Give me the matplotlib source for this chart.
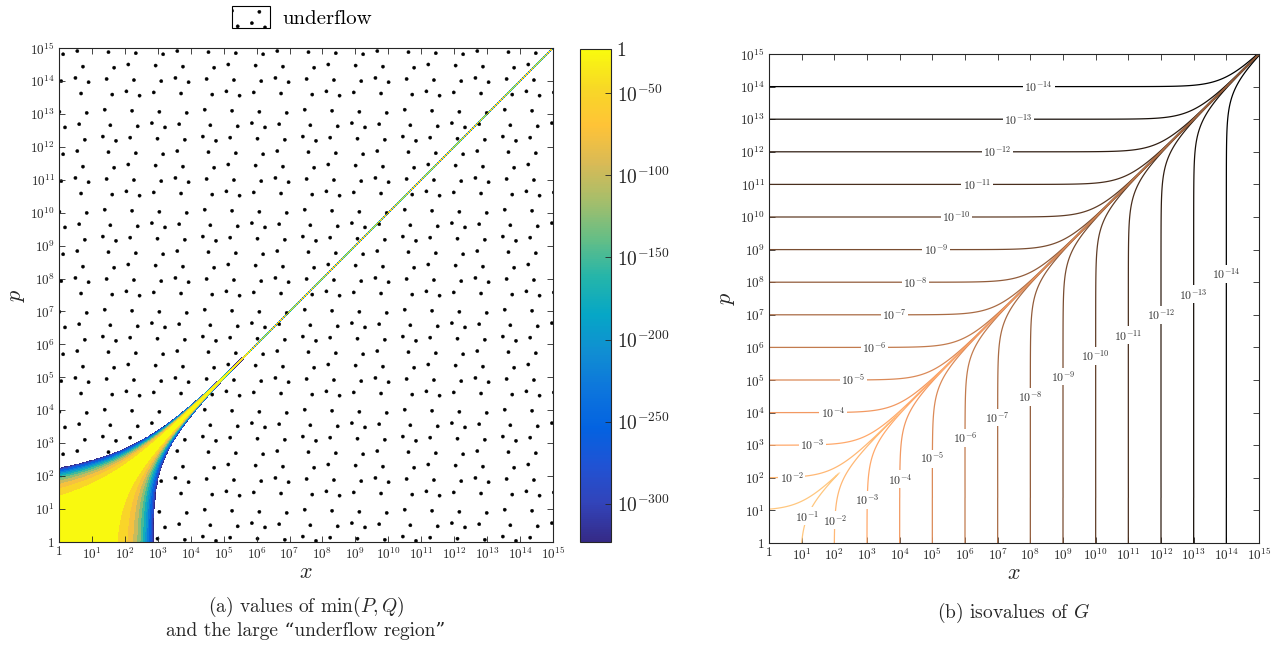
import math
import numpy as np
import matplotlib
matplotlib.use("Agg")
import matplotlib.pyplot as plt
import matplotlib.hatch as mhatch
from matplotlib.path import Path
from matplotlib.colors import LinearSegmentedColormap, Normalize
from matplotlib.patches import Patch
import matplotlib.cm as cm

plt.rcParams['font.family'] = ['cmr10', 'DejaVu Serif']
plt.rcParams['mathtext.fontset'] = 'cm'
plt.rcParams['axes.formatter.use_mathtext'] = True
plt.rcParams['hatch.color'] = 'black'
plt.rcParams['hatch.linewidth'] = 0.3

# ---------------- data / values ----------------
decades = np.arange(0, 16)                                  # 1 ... 1e15 on both axes
tick_labels = ['1'] + [rf'$10^{{{k}}}$' for k in decades[1:]]
g_levels = np.arange(-14, 0)                                # isovalues 1e-14 ... 1e-1
cbar_ticks = [-300, -250, -200, -150, -100, -50]
cbar_labels = [rf'$10^{{{k}}}$' for k in cbar_ticks]
cbar_top = -23.0            # colour saturates here (labelled "1")
denorm_min = -323.3         # log10 of smallest subnormal double; below -> underflow
band_step = 25.0            # spacing (in decades) of the filled contour bands

# parula colormap anchors
parula_rgb = [(0.2081, 0.1663, 0.5292), (0.1959, 0.2645, 0.7279), (0.1253, 0.3242, 0.8303),
              (0.0117, 0.3875, 0.8820), (0.0498, 0.4586, 0.8641), (0.0641, 0.5570, 0.8240),
              (0.0228, 0.6535, 0.7768), (0.1453, 0.7098, 0.6646), (0.3953, 0.7459, 0.5244),
              (0.6473, 0.7456, 0.4188), (0.8507, 0.7299, 0.3360), (0.9990, 0.7653, 0.2164),
              (0.9698, 0.8481, 0.1475), (0.9763, 0.9831, 0.0538)]
parula = LinearSegmentedColormap.from_list('parula', parula_rgb)


# ---------------- irregular dot hatch (style only) ----------------
class IrregularDots(mhatch.HatchPatternBase):
    n_dots = 32
    radius = 0.016

    def __init__(self, hatch, density):
        self.active = hatch.count('.') > 0
        circ = Path.unit_circle()
        self.cv, self.cc = circ.vertices, circ.codes
        k = np.arange(1, self.n_dots + 1)
        u = (0.5 + k * 0.7548776662466927) % 1.0
        v = (0.5 + k * 0.5698402909980532) % 1.0
        m = self.radius * 1.2
        self.pts = np.column_stack([m + u * (1 - 2 * m), m + v * (1 - 2 * m)])
        self.num_vertices = len(self.pts) * len(self.cv) if self.active else 0

    def set_vertices_and_codes(self, vertices, codes):
        verts = [self.cv * self.radius + p for p in self.pts]
        vertices[:] = np.concatenate(verts)
        codes[:] = np.tile(self.cc, len(self.pts))

    get_vertices_and_codes = set_vertices_and_codes


try:
    mhatch._hatch_types[:] = [IrregularDots if t is mhatch.SmallFilledCircles else t
                              for t in mhatch._hatch_types]
except Exception:
    pass

# ---------------- field: regularized incomplete gamma functions ----------------
_erfc = np.vectorize(math.erfc)
_lgam = np.vectorize(math.lgamma)


def erfcx(z):
    out = np.empty_like(z)
    m = z < 6
    out[m] = np.exp(z[m] ** 2) * _erfc(z[m])
    zz = z[~m]
    out[~m] = (1 - 1 / (2 * zz ** 2) + 3 / (4 * zz ** 4) - 15 / (8 * zz ** 6)) / (zz * np.sqrt(np.pi))
    return out


def fields(a, x):
    """natural log of min(P,Q) and of G(p,x)"""
    lnmin = np.empty_like(a)
    lnG = np.empty_like(a)
    small = a <= 25
    big = ~small
    # --- Temme uniform asymptotics for large p
    ab, xb = a[big], x[big]
    t = xb / ab - 1
    with np.errstate(divide='ignore', invalid='ignore'):
        phi = np.where(np.abs(t) < 1e-4, t ** 2 / 2 - t ** 3 / 3 + t ** 4 / 4, t - np.log1p(t))
        eta = np.sign(t) * np.sqrt(2 * phi)
        z = np.abs(eta) * np.sqrt(ab / 2)
        ex = erfcx(z)
        c0 = np.where(np.abs(t) > 1e-3, 1 / t - 1 / eta,
                      -1 / 3 + eta / 12 - 2 * eta ** 2 / 135 + eta ** 3 / 864)
    sgn = np.where(t >= 0, 1.0, -1.0)
    fac = ex / 2 + sgn * c0 / np.sqrt(2 * np.pi * ab)
    lnG[big] = 0.5 * np.log(2 * np.pi / ab) + 1 / (12 * ab) + np.log(fac)
    lntail = -ab * phi + np.log(fac)
    lnmin[big] = np.where(lntail < np.log(0.5), lntail,
                          np.log1p(-np.exp(np.minimum(lntail, np.log(0.99)))))
    # --- series / continued fraction for small p
    a_s, x_s = a[small], x[small]
    lga = _lgam(a_s)
    ser = x_s < a_s + 1
    out_min = np.empty_like(a_s)
    out_G = np.empty_like(a_s)
    aa, xx = a_s[ser], x_s[ser]
    term = np.ones_like(xx)
    S = np.ones_like(xx)
    for k in range(1, 300):
        term = term * xx / (aa + k)
        S = S + term
    lnP = aa * np.log(xx) - xx - (lga[ser] + np.log(aa)) + np.log(S)
    lnQ = np.log1p(-np.exp(lnP))
    out_min[ser] = np.minimum(lnP, lnQ)
    out_G[ser] = np.where(xx <= aa, np.log(S) - np.log(aa), xx - aa * np.log(xx) + lga[ser] + lnQ)
    aa, xx = a_s[~ser], x_s[~ser]
    b = xx + 1 - aa
    c = np.full_like(xx, 1e300)
    d = 1 / b
    h = d.copy()
    for i in range(1, 400):
        an = -i * (i - aa)
        b = b + 2
        d = an * d + b
        d = np.where(np.abs(d) < 1e-300, 1e-300, d)
        d = 1 / d
        c = b + an / c
        c = np.where(np.abs(c) < 1e-300, 1e-300, c)
        h = h * d * c
    lnQ = -xx + aa * np.log(xx) - lga[~ser] + np.log(h)
    lnP = np.log1p(-np.exp(lnQ))
    out_min[~ser] = np.minimum(lnP, lnQ)
    out_G[~ser] = np.log(h)
    lnmin[small] = out_min
    lnG[small] = out_G
    return lnmin, lnG


lg = np.linspace(0, 15, 751)
LX, LP = np.meshgrid(lg, lg)
lnmin, lnG = fields((10.0 ** LP).ravel(), (10.0 ** LX).ravel())
Zmin = (lnmin / np.log(10)).reshape(LX.shape)
ZG = (lnG / np.log(10)).reshape(LX.shape)
Zc = np.where(Zmin < denorm_min, -400.0, Zmin)

# ---------------- figure ----------------
fig = plt.figure(figsize=(12.77, 6.5), dpi=100)
ax1 = fig.add_axes([59 / 1277, 108 / 650, 494 / 1277, 494 / 650])
cax = fig.add_axes([580 / 1277, 108 / 650, 31 / 1277, 493 / 650])
ax2 = fig.add_axes([769 / 1277, 107 / 650, 490 / 1277, 489 / 650])

ink = '#262626'
for ax in (ax1, ax2):
    ax.set_xlim(0, 15)
    ax.set_ylim(0, 15)
    ax.set_xticks(decades)
    ax.set_yticks(decades)
    ax.set_xticklabels(tick_labels)
    ax.set_yticklabels(tick_labels)
    ax.tick_params(direction='in', top=True, right=True, length=4.5, width=0.6,
                   labelsize=9.5, colors=ink, pad=3)
    for s in ax.spines.values():
        s.set_linewidth(0.8)
        s.set_color(ink)
    ax.set_xlabel(r'$x$', fontsize=16, labelpad=0, color=ink)
    ax.set_ylabel(r'$p$', fontsize=16, labelpad=2, color=ink)

# left panel: filled bands coloured by their lower level (as MATLAB contourf)
norm = Normalize(vmin=denorm_min, vmax=cbar_top)
fill_levels = np.concatenate(([denorm_min], np.arange(-300.0, -20.0, band_step), [0.0]))
band_colors = [parula(norm(v)) for v in fill_levels[:-1]]
ax1.contourf(LX, LP, Zc, levels=fill_levels, colors=band_colors)
ax1.contourf(LX, LP, Zc, levels=[-401.0, denorm_min], colors='none', hatches=['.'])

sm = cm.ScalarMappable(norm=norm, cmap=parula)
cb = fig.colorbar(sm, cax=cax)
cb.set_ticks(cbar_ticks + [cbar_top])
cb.set_ticklabels(cbar_labels + ['1'])
cax.tick_params(direction='in', length=4, width=0.6, labelsize=14, colors=ink, pad=4)
cb.outline.set_linewidth(0.8)
cb.outline.set_edgecolor(ink)

# right panel
norm_g = Normalize(vmin=g_levels.min(), vmax=g_levels.max())
cs = ax2.contour(LX, LP, ZG, levels=g_levels, cmap='copper', norm=norm_g, linewidths=0.9)
label_pos = [(1.0, 0.9)]
for k in range(2, 15):
    u = 0.7 + 0.63 * (k - 2)
    label_pos += [(u, k), (k, u)]
cs.clabel(manual=label_pos, inline=False, fontsize=8.5, colors='#333333',
          fmt=lambda v: rf'$10^{{{int(round(v))}}}$')
for txt in cs.labelTexts:
    txt.set_rotation(0)
    txt.set_bbox(dict(facecolor='white', edgecolor='none', pad=1.0))

# legend and captions
leg = fig.legend(handles=[Patch(facecolor='white', edgecolor='black', hatch='.', linewidth=0.8,
                                label='underflow')],
                 loc='center', bbox_to_anchor=(302 / 1277, 1 - 17 / 650), frameon=False,
                 fontsize=15, handlelength=1.8, handleheight=1.2, handletextpad=0.6)

fig.text(306 / 1277, 1 - 607 / 650, r'(a) values of $\min(P,Q)$', ha='center', va='center',
         fontsize=14, color=ink)
fig.text(306 / 1277, 1 - 631 / 650, 'and the large “underflow region”', ha='center',
         va='center', fontsize=14, color=ink)
fig.text(1014 / 1277, 1 - 613 / 650, r'(b) isovalues of $G$', ha='center', va='center',
         fontsize=14, color=ink)

fig.savefig('out.png', dpi=100)
